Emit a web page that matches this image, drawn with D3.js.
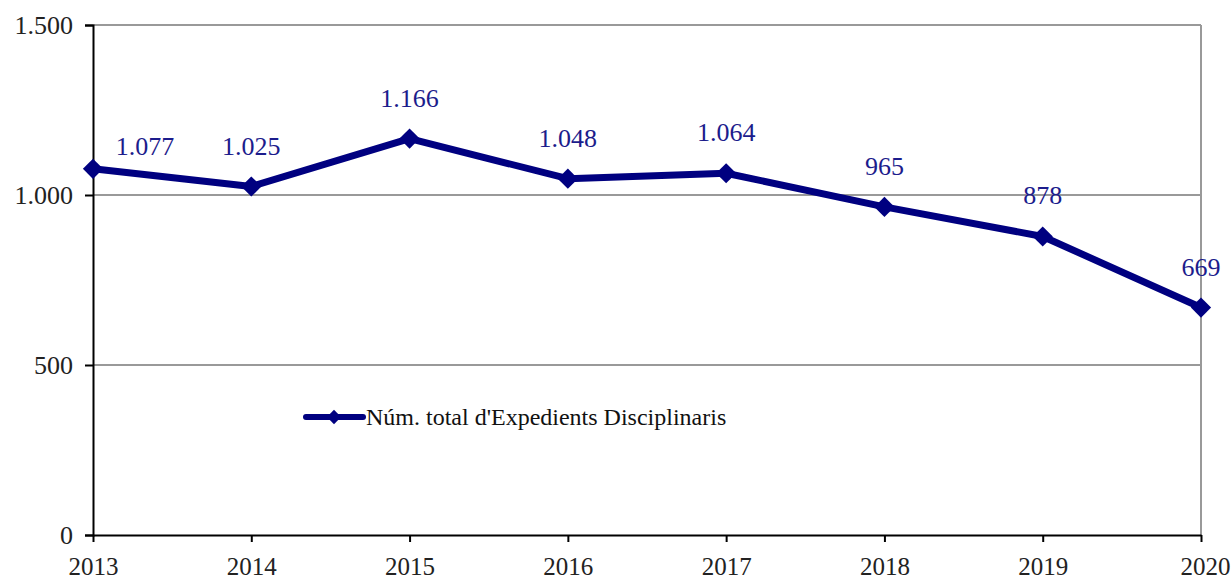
<!DOCTYPE html>
<html><head><meta charset="utf-8">
<script src="https://cdn.jsdelivr.net/npm/d3@7"></script>
<style>body{margin:0;background:#fff}svg{display:block}</style>
</head><body>
<script>
const years = [2013, 2014, 2015, 2016, 2017, 2018, 2019, 2020];
const values = [1077, 1025, 1166, 1048, 1064, 965, 878, 669];
const valueLabels = ["1.077", "1.025", "1.166", "1.048", "1.064", "965", "878", "669"];
const yTicks = [0, 500, 1000, 1500];
const yTickLabels = ["0", "500", "1.000", "1.500"];
const seriesName = "Núm. total d'Expedients Disciplinaris";

const W = 1231, H = 586;
const m = {left: 93, right: 30, top: 25, bottom: 51};
const font = "'Liberation Serif', 'Times New Roman', serif";
const navy = "#000080";

const svg = d3.select("body").append("svg").attr("width", W).attr("height", H);
const x = d3.scalePoint().domain(years).range([m.left, W - m.right]);
const y = d3.scaleLinear().domain([0, 1500]).range([H - m.bottom, m.top]);

// gridlines
svg.append("g").selectAll("line").data(yTicks.filter(d => d > 0)).join("line")
  .attr("x1", m.left).attr("x2", W - m.right)
  .attr("y1", d => y(d)).attr("y2", d => y(d))
  .attr("stroke", "#999").attr("stroke-width", 2);
// right border
svg.append("line").attr("x1", W - m.right).attr("x2", W - m.right)
  .attr("y1", y(1500)).attr("y2", y(0)).attr("stroke", "#999").attr("stroke-width", 2);

// y axis
const yAxis = svg.append("g").attr("transform", `translate(${m.left},0)`)
  .call(d3.axisLeft(y).tickValues(yTicks).tickFormat((d, i) => yTickLabels[i]).tickSize(8).tickPadding(12));
yAxis.select(".domain").attr("stroke", "#000").attr("stroke-width", 2);
yAxis.selectAll(".tick line").attr("stroke", "#000").attr("stroke-width", 2);
yAxis.selectAll("text").attr("font-family", font).attr("font-size", 26).attr("fill", "#222");

// x axis
const xAxis = svg.append("g").attr("transform", `translate(0,${y(0)})`)
  .call(d3.axisBottom(x).tickSize(7).tickPadding(15).tickSizeOuter(0));
xAxis.select(".domain").attr("stroke", "#000").attr("stroke-width", 2);
xAxis.selectAll(".tick line").attr("stroke", "#000").attr("stroke-width", 2);
xAxis.selectAll("text").attr("font-family", font).attr("font-size", 25).attr("fill", "#222");
// keep the last label inside the frame
xAxis.selectAll(".tick:last-of-type text").attr("text-anchor", "end").attr("dx", 29);

// line
svg.append("path").datum(values)
  .attr("fill", "none").attr("stroke", navy).attr("stroke-width", 7).attr("stroke-linejoin", "round")
  .attr("d", d3.line().x((d, i) => x(years[i])).y(d => y(d)));

const diamond = d3.symbol().type(d3.symbolDiamond2).size(260);
svg.append("g").selectAll("path").data(values).join("path")
  .attr("transform", (d, i) => `translate(${x(years[i])},${y(d)})`)
  .attr("d", diamond).attr("fill", navy);

// labels
svg.append("g").selectAll("text").data(values).join("text")
  .attr("x", (d, i) => x(years[i]) + (i === 0 ? 52 : 0))
  .attr("y", (d, i) => y(d) - (i === 0 ? 14 : 32))
  .attr("text-anchor", "middle")
  .attr("font-family", font).attr("font-size", 26).attr("fill", "#1c1c8c")
  .text((d, i) => valueLabels[i]);

// legend
const lg = svg.append("g").attr("transform", "translate(303,417)");
lg.append("line").attr("x1", 3).attr("x2", 60).attr("y1", 0).attr("y2", 0)
  .attr("stroke", navy).attr("stroke-width", 6).attr("stroke-linecap", "round");
lg.append("path").attr("transform", "translate(31,0)").attr("d", d3.symbol().type(d3.symbolDiamond2).size(130)).attr("fill", navy);
lg.append("text").attr("x", 63).attr("y", 8).attr("font-family", font).attr("font-size", 24).attr("fill", "#111").text(seriesName);
</script>
</body></html>
